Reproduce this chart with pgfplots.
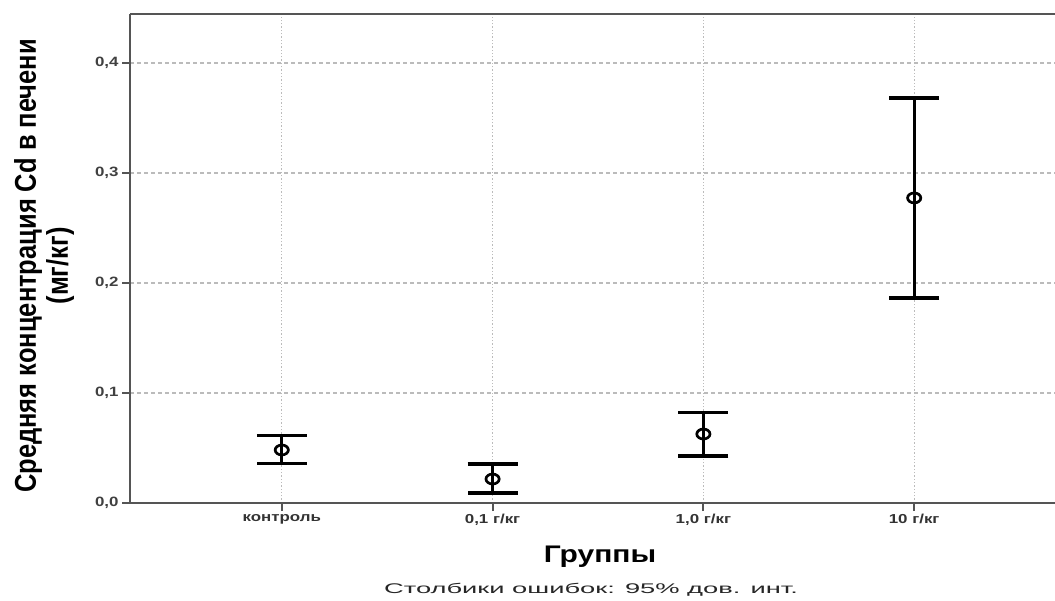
\documentclass[border=0pt]{standalone}
\usepackage{pgfplots}
\pgfplotsset{compat=1.18}
\usepackage{fontspec}
\setmainfont{Liberation Sans}
\newfontfamily\ytickfont[FakeStretch=1.25]{Liberation Sans}
\newfontfamily\xtickfont[FakeStretch=1.3]{Liberation Sans}
\newfontfamily\xlabfont[FakeStretch=1.25]{Liberation Sans}
\newfontfamily\ylabfont[FakeStretch=0.85]{Liberation Sans}
\newfontfamily\notefont[FakeStretch=1.95]{Liberation Sans}
\definecolor{axgray}{HTML}{555555}
\definecolor{gridgray}{HTML}{BBBBBB}
\pgfplotstableread{
x y ep em
0 0.0482 0.0130 0.0121
1 0.0218 0.0137 0.0127
2 0.0627 0.0198 0.0200
3 0.2773 0.0909 0.0909
}\cdtable
\begin{document}
\begin{tikzpicture}
\path[use as bounding box] (0,0) rectangle (1055pt,-601pt);
\begin{axis}[
  at={(130pt,-14pt)}, anchor=north west,
  scale only axis, width=925pt, height=489pt,
  xmin=-0.72, xmax=3.668, ymin=0, ymax=0.4445,
  axis x line*=box, axis y line*=left,
  xtick pos=lower, ytick pos=left,
  axis line style={axgray, line width=2.5pt},
  xtick={0,1,2,3},
  xticklabels={контроль, {0,1 г/кг}, {1,0 г/кг}, {10 г/кг}},
  ytick={0,0.1,0.2,0.3,0.4},
  yticklabel style={/pgf/number format/use comma, /pgf/number format/fixed, /pgf/number format/fixed zerofill, /pgf/number format/precision=1},
  /pgf/number format/assume math mode=true,
  tick align=outside, major tick length=8pt,
  tick style={axgray, line width=2pt},
  xticklabel style={font=\xtickfont\bfseries\fontsize{13}{14}\selectfont, color=black!80},
  yticklabel style={font=\ytickfont\bfseries\fontsize{13.5}{15}\selectfont, color=black!75},
  xmajorgrids, ymajorgrids,
  x grid style={gridgray, line width=1.3pt, dotted},
  y grid style={gridgray, line width=1.3pt, dash pattern=on 4pt off 3pt},
  clip=false,
]
\addplot[black, only marks, mark=o, mark size=5.5pt,
  mark options={line width=2.7pt, xscale=1.2, yscale=0.9},
  error bars/.cd, y dir=both, y explicit,
  error bar style={line width=3.2pt, black},
  error mark options={line width=3.2pt, mark size=25pt, black, rotate=90}]
  table[x=x, y=y, y error plus=ep, y error minus=em] {\cdtable};
\end{axis}
\node[font=\xlabfont\bfseries\fontsize{24}{26}\selectfont] at (600pt,-557pt) {Группы};
\node[font=\notefont\fontsize{14}{15}\selectfont, color=black!85] at (591pt,-590pt) {Столбики ошибок: 95\% дов. инт.};
\node[rotate=90, align=center, font=\ylabfont\bfseries\fontsize{30}{32}\selectfont] at (44pt,-266pt) {Средняя концентрация Cd в печени\\(мг/кг)};
\end{tikzpicture}
\end{document}
